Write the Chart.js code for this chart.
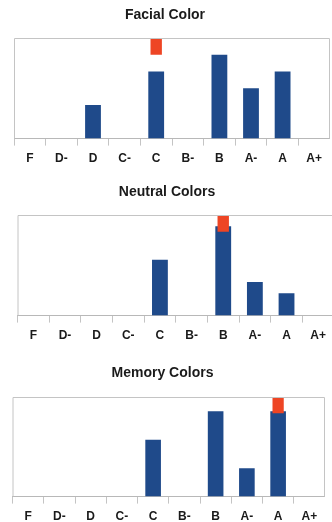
<!DOCTYPE html>
<html>
<head>
<meta charset="utf-8">
<script src="https://cdn.jsdelivr.net/npm/chart.js@4/dist/chart.umd.min.js"></script>
<style>
  html, body { margin: 0; padding: 0; background: #fff; }
  body { width: 332px; height: 522px; position: relative; overflow: hidden; }
  .panel { position: absolute; left: 0; }
</style>
</head>
<body>
<div class="panel" style="top:7px;width:330px;height:165px;"><canvas id="facial"></canvas></div>
<div class="panel" style="top:184px;width:334px;height:165px;"><canvas id="neutral"></canvas></div>
<div class="panel" style="top:365px;width:325px;height:165px;"><canvas id="memory"></canvas></div>
<script>
// grade categories shared by all three panels
const grades = ['F', 'D-', 'D', 'C-', 'C', 'B-', 'B', 'A-', 'A', 'A+'];

// counts per grade (blue bars)
const facialCounts  = [0, 0, 2, 0, 4, 0, 5, 3, 4, 0];
const neutralCounts = [0, 0, 0, 0, 5, 0, 8, 3, 2, 0];
const memoryCounts  = [0, 0, 0, 0, 2, 0, 3, 1, 3, 0];

// red marker: [from, to] at the reference grade, null elsewhere
const facialMarker  = [null, null, null, null, [5, 6], null, null, null, null, null];
const neutralMarker = [null, null, null, null, null, null, [7.5, 9], null, null, null];
const memoryMarker  = [null, null, null, null, null, null, null, null, [2.93, 3.5], null];

// y-axis top for each panel
const facialMax = 6;
const neutralMax = 9;
const memoryMax = 3.5;

const BLUE = '#1f4a8a';
const RED = '#ee4524';
const FONT = 'Liberation Sans, Arial, sans-serif';

const boxPlugin = {
    id: 'plotBox',
    afterDatasetsDraw(chart) {
        const { ctx, chartArea } = chart;
        ctx.save();
        ctx.strokeStyle = '#c4c4c4';
        ctx.lineWidth = 1;
        ctx.beginPath();
        ctx.moveTo(chartArea.left + 0.5, chartArea.bottom);
        ctx.lineTo(chartArea.left + 0.5, chartArea.top + 0.5);
        ctx.lineTo(chartArea.right - 0.5, chartArea.top + 0.5);
        ctx.lineTo(chartArea.right - 0.5, chartArea.bottom);
        ctx.stroke();
        ctx.restore();
    }
};

function makeChart(id, title, counts, marker, yMax, leftGap, titleGap) {
    const ctx = document.getElementById(id).getContext('2d');
    return new Chart(ctx, {
        type: 'bar',
        data: {
            labels: grades,
            datasets: [
                {
                    data: marker,
                    backgroundColor: RED,
                    grouped: false,
                    categoryPercentage: 1,
                    barPercentage: 0.36,
                    order: 0
                },
                {
                    data: counts,
                    backgroundColor: BLUE,
                    grouped: false,
                    categoryPercentage: 1,
                    barPercentage: 0.5,
                    order: 1
                }
            ]
        },
        options: {
            responsive: true,
            maintainAspectRatio: false,
            animation: false,
            layout: { padding: 0 },
            plugins: {
                legend: { display: false },
                tooltip: { enabled: false },
                title: {
                    display: true,
                    text: title,
                    color: '#1a1a1a',
                    font: { family: FONT, size: 14, weight: 'bold' },
                    padding: { top: 0, bottom: titleGap }
                }
            },
            scales: {
                x: {
                    grid: {
                        offset: true,
                        drawOnChartArea: false,
                        drawTicks: true,
                        tickLength: 7,
                        color: '#c4c4c4'
                    },
                    border: { display: true, color: '#b8b8b8' },
                    ticks: {
                        color: '#1a1a1a',
                        padding: 6,
                        maxRotation: 0,
                        autoSkip: false,
                        font: { family: FONT, size: 12, weight: 'bold' }
                    }
                },
                y: {
                    // invisible axis, only reserves the empty strip left of the plot
                    display: true,
                    min: 0,
                    max: yMax,
                    grid: { display: false },
                    border: { display: false },
                    ticks: { display: false },
                    afterFit(scale) {
                        scale.width = leftGap;
                    }
                }
            }
        },
        plugins: [boxPlugin]
    });
}

makeChart('facial', 'Facial Color', facialCounts, facialMarker, facialMax, 14, 14.2);
makeChart('neutral', 'Neutral Colors', neutralCounts, neutralMarker, neutralMax, 17.5, 14.2);
makeChart('memory', 'Memory Colors', memoryCounts, memoryMarker, memoryMax, 12.5, 15.2);
</script>
</body>
</html>
